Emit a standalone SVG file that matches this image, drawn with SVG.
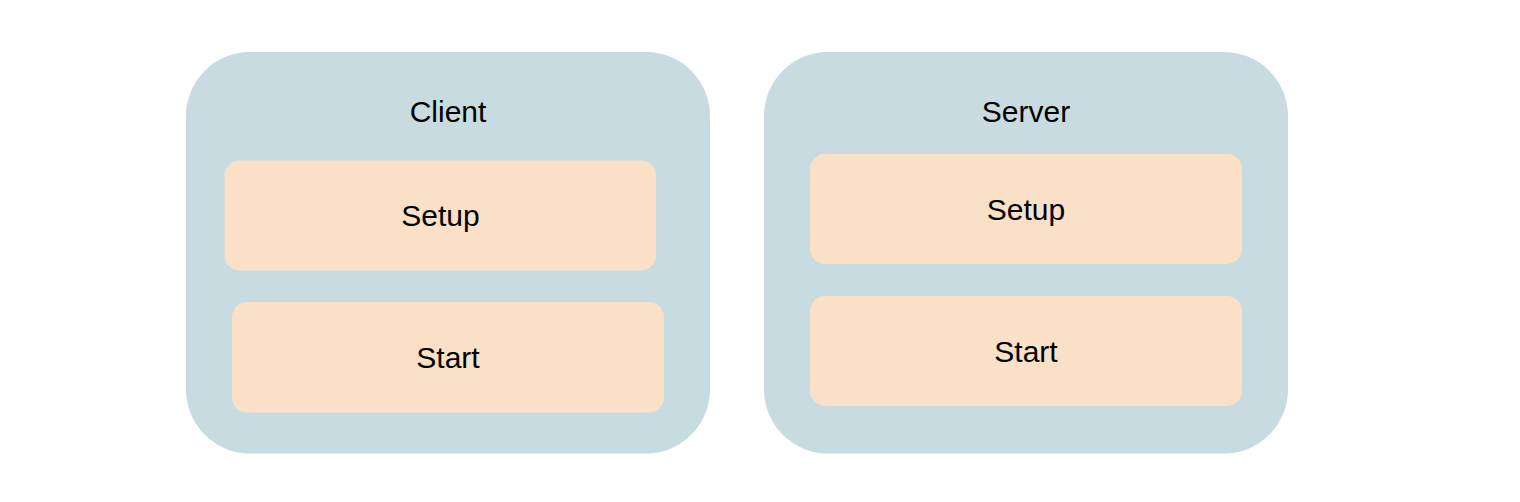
<svg xmlns="http://www.w3.org/2000/svg" width="1520" height="502" viewBox="0 0 1520 502">
<style>
.outer{fill:#c8dbe0}
.inner{fill:#f9e0c6}
text{font-family:"Liberation Sans",Arial,sans-serif;font-size:30px;fill:#000;text-anchor:middle}
</style>
<rect width="1520" height="502" fill="#fff"/>
<g id="client">
<rect class="outer" x="186" y="52" width="524" height="401.5" rx="64"/>
<text x="448" y="122">Client</text>
</g>
<g id="client-setup">
<rect class="inner" x="224.5" y="160.5" width="431.5" height="110" rx="15"/>
<text x="440.5" y="226">Setup</text>
</g>
<g id="client-start">
<rect class="inner" x="232" y="302" width="432" height="110.5" rx="15"/>
<text x="448" y="368">Start</text>
</g>
<g id="server">
<rect class="outer" x="764" y="52" width="524" height="401.5" rx="64"/>
<text x="1026" y="122">Server</text>
</g>
<g id="server-setup">
<rect class="inner" x="810" y="154" width="432" height="110" rx="15"/>
<text x="1026" y="220">Setup</text>
</g>
<g id="server-start">
<rect class="inner" x="810" y="296" width="432" height="110" rx="15"/>
<text x="1026" y="362">Start</text>
</g>
<g id="connectors"></g>
</svg>
